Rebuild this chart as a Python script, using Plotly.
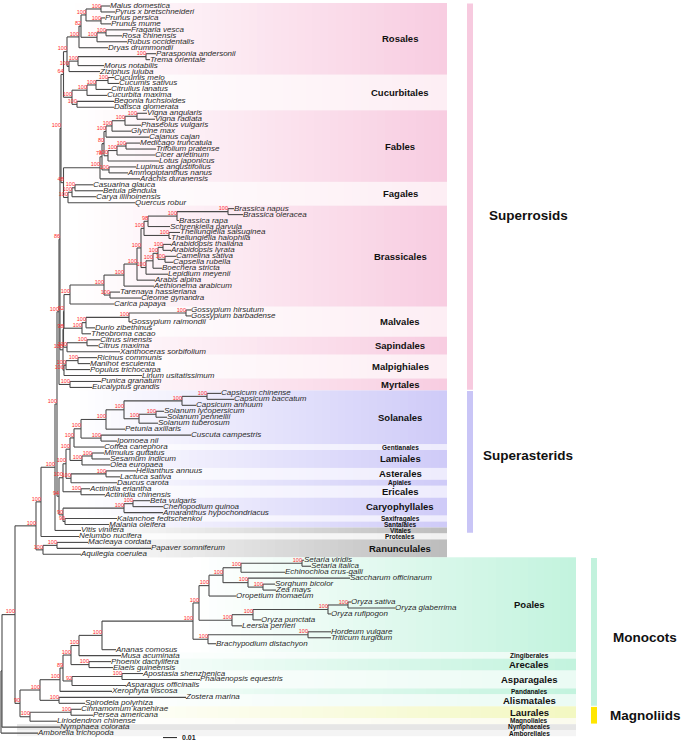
import numpy as np
import plotly.graph_objects as go

# ---------------------------------------------------------------- data
# Newick pieces: "(children)support:depth"; depth = root-to-node distance in
# tree units (14 units = 0.01 substitutions/site).
AMYG = "((Malus domestica:110,Pyrus x bretschneideri:115)100:101,(Prunus persica:105,Prunus mume:111)100:101)100:86"
ROSOID = "((Fragaria vesca:131,Rosa chinensis:122)100:106,Rubus occidentalis:127)100:97"
URTIC = "(((Parasponia andersonii:156,Trema orientale:150)100:146,Morus notabilis:104)100:78,Ziziphus jujuba:100)100:69"
ROSALES = f"((({AMYG},{ROSOID})82:81,Dryas drummondii:108)100:79,{URTIC})100:67"
CUCURB = "((((Cucumis melo:114,Cucumis sativus:119)100:108,Citrullus lanatus:111)100:96,Cucurbita maxima:107)100:87,(Begonia fuchsioides:114,Datisca glomerata:114)100:77)100:72"
PHASEOL = "((((Vigna angularis:147,Vigna radiata:155)100:137,Phaseolus vulgaris:141)100:125,Glycine max:131)100:112,Cajanus cajan:149)100:106"
HOLOG = "(((Medicago truncatula:140,Trifolium pratense:156)100:126,Cicer arietinum:155)100:117,Lotus japonicus:159)100:108"
FABALES = f"((({PHASEOL},{HOLOG})80:104,(Lupinus angustifolius:136,Ammopiptanthus nanus:128)100:109)78:102,Arachis duranensis:140)100:100"
FAGALES = "(((Casuarina glauca:93,Betula pendula:103)100:75,Carya illinoinensis:96)100:72,Quercus robur:135)100:68"
FABIDS = f"(({ROSALES},{CUCURB})64:63.5,({FABALES},{FAGALES})48:63.5)100:61"
BRAS_LII = "((((Brassica napus:234,Brassica oleracea:243)100:228,Brassica rapa:179)100:177,Schrenkiella parvula:170)98:148,(Thellungiella salsuginea:180,Thellungiella halophila:171)100:169)100:144"
BRAS_LI = "((((Arabidopsis thaliana:171,Arabidopsis lyrata:171)100:163,(Camelina sativa:176,Capsella rubella:173)100:165)100:158,Boechera stricta:162)100:153,Lepidium meyenii:168)100:146"
BRASS = f"((((({BRAS_LII},{BRAS_LI})100:141,Arabis alpina:155)100:137,Aethionema arabicum:154)100:124,(Tarenaya hassleriana:120,Cleome gynandra:141)100:110)100:104,Carica papaya:114)100:70"
MALV = "((((Gossypium hirsutum:191,Gossypium barbadense:191)100:186,Gossypium raimondii:131)100:129,Durio zibethinus:95)100:86,Theobroma cacao:91)100:82"
SAPIND = "((Citrus sinensis:100,Citrus maxima:98)100:87,Xanthoceras sorbifolium:120)100:67"
MALPIG = "(((Ricinus communis:97,Manihot esculenta:90)100:78,Populus trichocarpa:90)100:66,Linum usitatissimum:142)100:64"
MYRT = "(Punica granatum:101,Eucalyptus grandis:92)100:70"
SUPERROSIDS = f"(({FABIDS},((({BRASS},{MALV})92:64,{SAPIND})98:63.5,{MALPIG})100:63)86:60,{MYRT})100:59"
SOLANACEAE = "((((Capsicum chinense:221,Capsicum baccatum:234)100:207,Capsicum annuum:196)100:182,((Solanum lycopersicum:164,Solanum pennellii:167)100:156,Solanum tuberosum:158)100:139)100:124,Petunia axillaris:125)100:106"
SOLANALES = f"({SOLANACEAE},(Cuscuta campestris:191,Ipomoea nil:117)100:101)100:81"
LAMIALES = "((Mimulus guttatus:104,Sesamum indicum:110)100:92,Olea europaea:110)100:82"
LAMIIDS = f"(({SOLANALES},Coffea canephora:104)100:74,{LAMIALES})100:70"
CAMPAN = "((Helianthus annuus:136,Lactuca sativa:120)100:106,Daucus carota:117)100:71"
ASTERIDS = f"(({LAMIIDS},{CAMPAN})100:66,(Actinidia eriantha:90,Actinidia chinensis:105)100:81)100:63"
CARYO = "((Beta vulgaris:150,Chenopodium quinoa:163)100:133,Amaranthus hypochondriacus:163)100:124"
SUPERASTERIDS = f"({ASTERIDS},({CARYO},(Kalanchoe fedtschenkoi:117,Malania oleifera:109)90:65)90:63)94:59"
RANUNC = "((Macleaya cordata:88,Papaver somniferum:151)100:57,Aquilegia coerulea:81)100:43"
EUDICOTS = f"(((({SUPERROSIDS},{SUPERASTERIDS})100:57,Vitis vinifera:81)100:55,Nelumbo nucifera:79)100:41,{RANUNC})100:36"
PACMAD = "((((Setaria viridis:304,Setaria italica:311)100:302,Echinochloa crus-galli:285)100:241,(Saccharum officinarum:350,(Sorghum bicolor:275,Zea mays:276)100:263)100:248)100:223,Oropetium thomaeum:236)100:209"
ORYZ = "((((Oryza sativa:351,Oryza glaberrima:395)100:348,Oryza rufipogon:331)100:328,Oryza punctata:261)100:253,Leersia perrieri:242)100:232"
POOID = "((Hordeum vulgare:331,Triticum turgidum:331)100:308,Brachypodium distachyon:216)100:208"
POALES = f"(({PACMAD},{ORYZ})100:199,{POOID})100:193"
COMMEL = f"((({POALES},Ananas comosus:116)100:102,Musa acuminata:121)100:79,(Phoenix dactylifera:111,Elaeis guineensis:113)100:89)100:71"
ASPAR = "((Apostasia shenzhenica:143,Phalaenopsis equestris:200)100:122,Asparagus officinalis:126)92:72"
MONOCOTS = f"((({COMMEL},{ASPAR})89:63,Xerophyta viscosa:112)100:60,(Zostera marina:186,Spirodela polyrhiza:85)100:59)100:40"
MAGNOLIIDS = "((Cinnamomum kanehirae:81,Persea americana:93)100:71,Liriodendron chinense:57)100:30"
TREE = f"((({EUDICOTS},({MONOCOTS},{MAGNOLIIDS})90:20)100:15,Nymphaea colorata:60):2,Amborella trichopoda:38):1;"

ORDERS = ["Rosales", "Cucurbitales", "Fables", "Fagales", "Brassicales", "Malvales",
          "Sapindales", "Malpighiales", "Myrtales", "Solanales", "Gentianales", "Lamiales",
          "Asterales", "Apiales", "Ericales", "Caryophyllales", "Saxifragales", "Santalales",
          "Vitales", "Proteales", "Ranunculales", "Poales", "Zingiberales", "Arecales",
          "Asparagales", "Pandanales", "Alismatales", "Laurales", "Magnoliales",
          "Nymphaeales", "Amborellales"]
ORDER_SIZES = [12, 6, 12, 4, 17, 5, 3, 4, 2, 9, 1, 3, 2, 1, 2, 3, 1, 1, 1, 1, 3,
               16, 1, 2, 3, 1, 2, 2, 1, 1, 1]
ORDER_SMALL = ["Gentianales", "Apiales", "Saxifragales", "Santalales", "Vitales", "Proteales",
               "Zingiberales", "Pandanales", "Magnoliales", "Nymphaeales", "Amborellales"]

GROUPS = ["Superrosids", "Superasterids", "Monocots", "Magnoliids"]
GROUP_FIRST = [0, 65, 93, 118]   # first leaf index
GROUP_LAST = [64, 88, 117, 120]  # last leaf index

# ---------------------------------------------------------------- styles
SRS, SRL = "#f8cde1", "#fdeef4"
SAS, SAL = "#cfcbf8", "#eeecfd"
GRY, PRO = "#bdbdbd", "#f1f1f1"
MOS, MOL = "#c3f3de", "#ebfbf4"
ORDER_COLORS = [SRS, SRL, SRS, SRL, SRS, SRL, SRS, SRL, SRS,
                SAS, SAL, SAS, SAL, SAS, SAL, SAS, SAL, SAS,
                GRY, PRO, GRY,
                MOS, MOL, MOS, MOL, MOS, MOL,
                "#f3f8c2", "#fbfbee", "#e6e6e6", "#f4f4f4"]
ORDER_X0 = [67, 72, 72, 67, 70, 72, 67, 64, 70,
            72, 72, 72, 72, 72, 72, 72, 72, 72,
            72, 72, 72,
            193, 79, 77, 72, 60, 58,
            70, 30, 17, 17]
GROUP_COLORS = ["#f7cadf", "#c9c5f6", "#c2f2dd", "#ffe600"]
GROUP_BAR_X = [(467, 473), (467, 473), (591, 597), (591, 597)]
GROUP_LABEL_X = [528, 528, 645, 645]
GROUP_LABEL_Y = [35.1, 75.5, 105.9, 119.0]

W, H = 685, 742
Y0, DY = 6.0, 5.96          # pixel of first leaf, pixel step per leaf
FONT = "Liberation Sans, Arial, sans-serif"


# ---------------------------------------------------------------- parse
def parse_newick(s):
    pos = 0

    def node():
        nonlocal pos
        children = []
        if s[pos] == "(":
            pos += 1
            children.append(node())
            while s[pos] == ",":
                pos += 1
                children.append(node())
            pos += 1  # ')'
        start = pos
        while s[pos] not in ":,);":
            pos += 1
        label = s[start:pos].strip()
        depth = 0.0
        if s[pos] == ":":
            pos += 1
            start = pos
            while s[pos] not in ",);":
                pos += 1
            depth = float(s[start:pos])
        return {"name": label, "children": children, "depth": depth}

    return node()


root = parse_newick(TREE)
leaves = []


def assign(n):
    if not n["children"]:
        n["y"] = len(leaves)
        leaves.append(n)
    else:
        for c in n["children"]:
            assign(c)
        n["y"] = (n["children"][0]["y"] + n["children"][-1]["y"]) / 2


assign(root)

lx, ly = [], []
sup_x, sup_y, sup_t = [], [], []


def walk(n, parent=None):
    if parent is not None:
        lx.extend([parent["depth"], n["depth"], None])
        ly.extend([n["y"], n["y"], None])
    if n["children"]:
        lx.extend([n["depth"], n["depth"], None])
        ly.extend([n["children"][0]["y"], n["children"][-1]["y"], None])
        if n["name"]:
            sup_x.append(n["depth"])
            sup_y.append(n["y"] - 0.45)
            sup_t.append(n["name"])
        for c in n["children"]:
            walk(c, n)


walk(root)

fig = go.Figure()

# ---------------------------------------------------------------- bands
start = 0
NSTEP = 48
for name, size, col, x0 in zip(ORDERS, ORDER_SIZES, ORDER_COLORS, ORDER_X0):
    first, last = start, start + size - 1
    start += size
    x1 = 447 if first < 93 else 576
    c0 = col if name in ("Nymphaeales", "Amborellales") else "#ffffff"
    fig.add_trace(go.Heatmap(
        x=np.linspace(x0, x1, NSTEP + 1), y=[first - 0.5, last + 0.5],
        z=[list(range(NSTEP))], zmin=0, zmax=NSTEP - 1,
        colorscale=[[0, c0], [1, col]], showscale=False, hoverinfo="skip"))
    fig.add_annotation(x=x1 - 47, y=(first + last) / 2, text=f"<b>{name}</b>",
                       showarrow=False, xanchor="center", yanchor="middle",
                       font=dict(family=FONT, size=6.5 if name in ORDER_SMALL else 9.5,
                                 color="#111111"))

# ---------------------------------------------------------------- tree
fig.add_trace(go.Scatter(x=lx, y=ly, mode="lines",
                         line=dict(color="#4a4a4a", width=1.1),
                         hoverinfo="skip", showlegend=False))
fig.add_trace(go.Scatter(
    x=[n["depth"] for n in leaves], y=[n["y"] for n in leaves],
    mode="text", text=[f"<i>{n['name']}</i>" for n in leaves],
    textposition="middle right",
    textfont=dict(family=FONT, size=8, color="#2b2b2b"),
    hoverinfo="skip", showlegend=False))
fig.add_trace(go.Scatter(
    x=sup_x, y=sup_y, mode="text", text=sup_t, textposition="middle left",
    textfont=dict(family=FONT, size=5.5, color="#ff2a2a"),
    hoverinfo="skip", showlegend=False))

# ---------------------------------------------------------------- groups
for g, f, l, c, (bx0, bx1), gx, gy in zip(GROUPS, GROUP_FIRST, GROUP_LAST, GROUP_COLORS,
                                          GROUP_BAR_X, GROUP_LABEL_X, GROUP_LABEL_Y):
    fig.add_shape(type="rect", x0=bx0, x1=bx1, y0=f - 0.4, y1=l + 0.4,
                  fillcolor=c, line=dict(width=0), layer="above")
    fig.add_annotation(x=gx, y=gy, text=f"<b>{g}</b>", showarrow=False,
                       xanchor="center", yanchor="middle",
                       font=dict(family=FONT, size=13.5, color="#111111"))

# scale bar: 0.01 substitutions = 14 tree units
fig.add_shape(type="line", x0=163, x1=163 + 14, y0=122.75, y1=122.75,
              line=dict(color="#222222", width=1))
fig.add_annotation(x=180, y=122.75, text="<b>0.01</b>", showarrow=False,
                   xanchor="left", yanchor="middle",
                   font=dict(family=FONT, size=7, color="#222222"))

fig.update_layout(
    width=W, height=H, margin=dict(l=0, r=0, t=0, b=0),
    paper_bgcolor="white", plot_bgcolor="white", showlegend=False,
    xaxis=dict(range=[0, W], visible=False, fixedrange=True),
    yaxis=dict(range=[(H - Y0) / DY, -Y0 / DY], visible=False, fixedrange=True),
)
fig.write_html("out.html", config={"displayModeBar": False},
               post_script="document.body.style.margin='0';document.body.style.padding='0';"
                           "document.body.style.overflow='hidden';")
